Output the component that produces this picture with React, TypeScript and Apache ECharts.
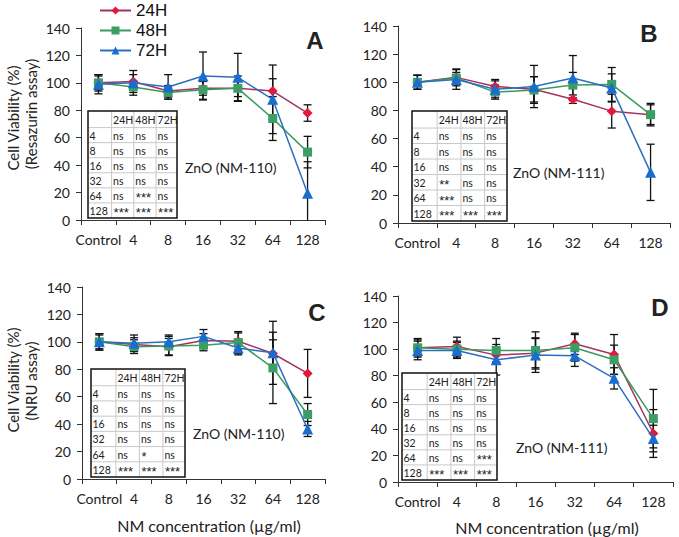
import React, { useEffect, useRef } from 'react';
import * as echarts from 'echarts';

const categories = ['Control', '4', '8', '16', '32', '64', '128'];
const seriesNames = ['24H', '48H', '72H'];

// Panel A: Resazurin, ZnO (NM-110)
const a24 = [100, 101, 94, 96, 96, 94, 78];
const a24Err = [5, 5, 4, 5, 6, 9, 6];
const a48 = [100, 97, 93, 95, 96, 74, 49.5];
const a48Err = [6, 4, 4, 7, 9, 16, 11.5];
const a72 = [99, 100, 97, 105, 104, 88, 19.5];
const a72Err = [7, 9, 9, 17.5, 17.5, 25, 23];

// Panel B: Resazurin, ZnO (NM-111)
const b24 = [100, 103.5, 97, 95, 88, 79.5, 77];
const b24Err = [5, 6, 5, 9, 3, 12, 7];
const b48 = [100, 103, 93, 94.5, 98, 98.5, 77];
const b48Err = [5, 4, 5, 9.5, 9, 12, 8];
const b72 = [100, 102, 95, 97, 103, 96, 36];
const b72Err = [5, 7, 6, 15, 16, 10, 20];

// Panel C: NRU, ZnO (NM-110)
const c24 = [100, 98, 96.5, 101, 100.5, 91.5, 77];
const c24Err = [5, 5, 6, 5, 6, 10, 17.5];
const c48 = [100, 96.5, 97, 97.5, 99.5, 81, 47];
const c48Err = [6, 5, 7, 4, 8, 26, 8];
const c72 = [100, 99, 100, 104, 95.5, 92, 36.5];
const c72Err = [6, 6, 5, 5, 5, 23, 5.5];

// Panel D: NRU, ZnO (NM-111)
const d24 = [101, 102, 95.5, 97, 104, 96, 36.5];
const d24Err = [6, 7, 5, 11, 8, 15, 18];
const d48 = [101, 100, 99, 99, 101, 92, 47.7];
const d48Err = [7, 6, 9, 14, 10, 11, 22];
const d72 = [99, 99, 92, 95.5, 95, 78, 32.7];
const d72Err = [7, 6, 11.5, 13, 8, 8, 10];

const tableHeader = ['', '24H', '48H', '72H'];
const tableA = [
  ['4', 'ns', 'ns', 'ns'],
  ['8', 'ns', 'ns', 'ns'],
  ['16', 'ns', 'ns', 'ns'],
  ['32', 'ns', 'ns', 'ns'],
  ['64', 'ns', '***', 'ns'],
  ['128', '***', '***', '***'],
];
const tableB = [
  ['4', 'ns', 'ns', 'ns'],
  ['8', 'ns', 'ns', 'ns'],
  ['16', 'ns', 'ns', 'ns'],
  ['32', '**', 'ns', 'ns'],
  ['64', '***', 'ns', 'ns'],
  ['128', '***', '***', '***'],
];
const tableC = [
  ['4', 'ns', 'ns', 'ns'],
  ['8', 'ns', 'ns', 'ns'],
  ['16', 'ns', 'ns', 'ns'],
  ['32', 'ns', 'ns', 'ns'],
  ['64', 'ns', '*', 'ns'],
  ['128', '***', '***', '***'],
];
const tableD = [
  ['4', 'ns', 'ns', 'ns'],
  ['8', 'ns', 'ns', 'ns'],
  ['16', 'ns', 'ns', 'ns'],
  ['32', 'ns', 'ns', 'ns'],
  ['64', 'ns', 'ns', '***'],
  ['128', '***', '***', '***'],
];

const FONT = 'Lato, "Liberation Sans", sans-serif';
const ARIAL = '"Liberation Sans", Arial, sans-serif';

const lineColors = ['#A4345F', '#3A9A5E', '#2C6FC1'];
const markerColors = ['#E2183C', '#3A9E65', '#1B6CCF'];
const symbols = ['diamond', 'rect', 'triangle'];
const symbolSizes = [10, 9, 11];

const panels = [
  { grid: { left: 81, top: 28, width: 244, height: 192 }, means: [a24, a48, a72], errs: [a24Err, a48Err, a72Err] },
  { grid: { left: 398, top: 26, width: 272, height: 197 }, means: [b24, b48, b72], errs: [b24Err, b48Err, b72Err] },
  { grid: { left: 82, top: 287, width: 243, height: 192 }, means: [c24, c48, c72], errs: [c24Err, c48Err, c72Err] },
  { grid: { left: 398, top: 296, width: 275, height: 186 }, means: [d24, d48, d72], errs: [d24Err, d48Err, d72Err] },
];

function buildTable(x0: number, y0: number, x1: number, y1: number, rows: string[][]) {
  const els: any[] = [];
  const w = x1 - x0;
  const h = y1 - y0;
  const colW = [w * 0.265, w * 0.25, w * 0.25, w * 0.235];
  const colX = [x0];
  colW.forEach((cw) => colX.push(colX[colX.length - 1] + cw));
  const headH = h * 0.155;
  const rowH = (h - headH) / 6;
  const rowY = [y0, y0 + headH];
  for (let i = 1; i <= 6; i++) rowY.push(y0 + headH + rowH * i);
  els.push({ type: 'rect', shape: { x: x0, y: y0, width: w, height: h }, style: { fill: '#fff', stroke: 'none' }, z: 10 });
  for (let i = 1; i < 7; i++) {
    els.push({ type: 'line', shape: { x1: x0, y1: rowY[i], x2: x1, y2: rowY[i] }, style: { stroke: '#c8c8c8', lineWidth: 1 }, z: 11 });
  }
  for (let j = 1; j < 4; j++) {
    els.push({ type: 'line', shape: { x1: colX[j], y1: y0, x2: colX[j], y2: y1 }, style: { stroke: '#c8c8c8', lineWidth: 1 }, z: 11 });
  }
  els.push({ type: 'rect', shape: { x: x0, y: y0, width: w, height: h }, style: { fill: 'none', stroke: '#111', lineWidth: 1.5 }, z: 12 });
  const all = [tableHeader, ...rows];
  all.forEach((r, i) => {
    r.forEach((t, j) => {
      if (!t) return;
      const star = t.indexOf('*') >= 0;
      els.push({
        type: 'text',
        x: colX[j] + (star ? 2 : 1.5),
        y: (rowY[i] + rowY[i + 1]) / 2 + (star ? 2.5 : 0.5),
        z: 13,
        style: {
          text: t,
          font: star ? `13px ${ARIAL}` : `10.5px ${FONT}`,
          fill: '#222',
          align: 'left',
          verticalAlign: 'middle',
        },
      });
    });
  });
  return els;
}

function textEl(text: string, x: number, y: number, font: string, opts: any = {}) {
  return {
    type: 'text',
    x,
    y,
    rotation: opts.rotation || 0,
    z: 20,
    style: { text, font, fill: '#222', align: opts.align || 'center', verticalAlign: 'middle' },
  };
}

export default function App() {
  const ref = useRef<HTMLDivElement>(null);
  useEffect(() => {
    if (!ref.current) return;
    const chart = echarts.init(ref.current, undefined, { renderer: 'svg' });

    const grids = panels.map((p) => ({ ...p.grid }));
    const xAxes = panels.map((_, i) => ({
      type: 'category',
      gridIndex: i,
      data: categories,
      boundaryGap: true,
      axisLine: { lineStyle: { color: '#333', width: 1 } },
      axisTick: { show: true, length: 5, lineStyle: { color: '#333' } },
      axisLabel: { interval: 0, margin: 12, fontSize: 14, fontFamily: FONT, color: '#222' },
    }));
    const yAxes = panels.map((_, i) => ({
      type: 'value',
      gridIndex: i,
      min: 0,
      max: 140,
      interval: 20,
      axisLine: { show: true, lineStyle: { color: '#333', width: 1 } },
      axisTick: { show: true, length: 5, lineStyle: { color: '#333' } },
      axisLabel: { margin: 11, fontSize: 14, fontFamily: FONT, color: '#222' },
      splitLine: { show: false },
    }));

    const series: any[] = [];
    panels.forEach((p, pi) => {
      p.means.forEach((m, si) => {
        const errData = m.map((v, k) => [k, v, p.errs[si][k]]);
        series.push({
          type: 'custom',
          name: seriesNames[si] + ' error',
          xAxisIndex: pi,
          yAxisIndex: pi,
          z: 1,
          silent: true,
          encode: { x: 0, y: 1 },
          data: errData,
          renderItem: (params: any, api: any) => {
            const xi = api.value(0);
            const v = api.value(1);
            const e = api.value(2);
            const lo = Math.max(0, v - e);
            const hi = Math.min(140, v + e);
            const pTop = api.coord([xi, hi]);
            const pBot = api.coord([xi, lo]);
            const cw = 4;
            const st = { stroke: '#111', lineWidth: 1.3 };
            const children: any[] = [
              { type: 'line', shape: { x1: pTop[0], y1: pTop[1], x2: pBot[0], y2: pBot[1] }, style: st },
              { type: 'line', shape: { x1: pTop[0] - cw, y1: pTop[1], x2: pTop[0] + cw, y2: pTop[1] }, style: st },
            ];
            if (v - e >= 0) {
              children.push({ type: 'line', shape: { x1: pBot[0] - cw, y1: pBot[1], x2: pBot[0] + cw, y2: pBot[1] }, style: st });
            }
            return { type: 'group', children };
          },
        });
        series.push({
          type: 'line',
          name: seriesNames[si],
          xAxisIndex: pi,
          yAxisIndex: pi,
          z: 3 + si,
          data: m,
          symbol: symbols[si],
          symbolSize: symbolSizes[si],
          lineStyle: { color: lineColors[si], width: 1.5 },
          itemStyle: { color: markerColors[si] },
        });
      });
    });

    const graphic: any[] = [
      ...buildTable(88, 111, 177, 218, tableA),
      ...buildTable(412, 111, 507, 221, tableB),
      ...buildTable(91, 369, 185, 477, tableC),
      ...buildTable(402, 373, 497, 480, tableD),
      textEl('ZnO (NM-110)', 185, 167, `14px ${FONT}`, { align: 'left' }),
      textEl('ZnO (NM-111)', 513, 172, `14px ${FONT}`, { align: 'left' }),
      textEl('ZnO (NM-110)', 193, 433, `14px ${FONT}`, { align: 'left' }),
      textEl('ZnO (NM-111)', 516, 447, `14px ${FONT}`, { align: 'left' }),
      textEl('A', 315, 40, `bold 24px ${ARIAL}`),
      textEl('B', 649, 33, `bold 24px ${ARIAL}`),
      textEl('C', 317, 312, `bold 24px ${ARIAL}`),
      textEl('D', 660, 307, `bold 24px ${ARIAL}`),
      textEl('Cell Viability (%)', 13, 118, `15px ${FONT}`, { rotation: Math.PI / 2 }),
      textEl('(Resazurin assay)', 31, 114, `15px ${FONT}`, { rotation: Math.PI / 2 }),
      textEl('Cell Viability (%)', 13, 380, `15px ${FONT}`, { rotation: Math.PI / 2 }),
      textEl('(NRU assay)', 31, 381, `15px ${FONT}`, { rotation: Math.PI / 2 }),
      textEl('NM concentration (µg/ml)', 209, 525, `16px ${FONT}`),
      textEl('NM concentration (µg/ml)', 547, 527, `16px ${FONT}`),
    ];

    chart.setOption({
      animation: false,
      backgroundColor: '#fff',
      legend: {
        data: seriesNames,
        orient: 'vertical',
        left: 94,
        top: -3,
        itemWidth: 31,
        itemHeight: 10,
        itemGap: 3,
        textStyle: { fontSize: 17, fontFamily: ARIAL, color: '#111' },
      },
      grid: grids,
      xAxis: xAxes,
      yAxis: yAxes,
      series,
      graphic,
    });
    return () => chart.dispose();
  }, []);
  return (
    <div
      ref={ref}
      style={{ position: 'absolute', left: 0, top: 0, width: 679, height: 537, background: '#fff' }}
    />
  );
}
